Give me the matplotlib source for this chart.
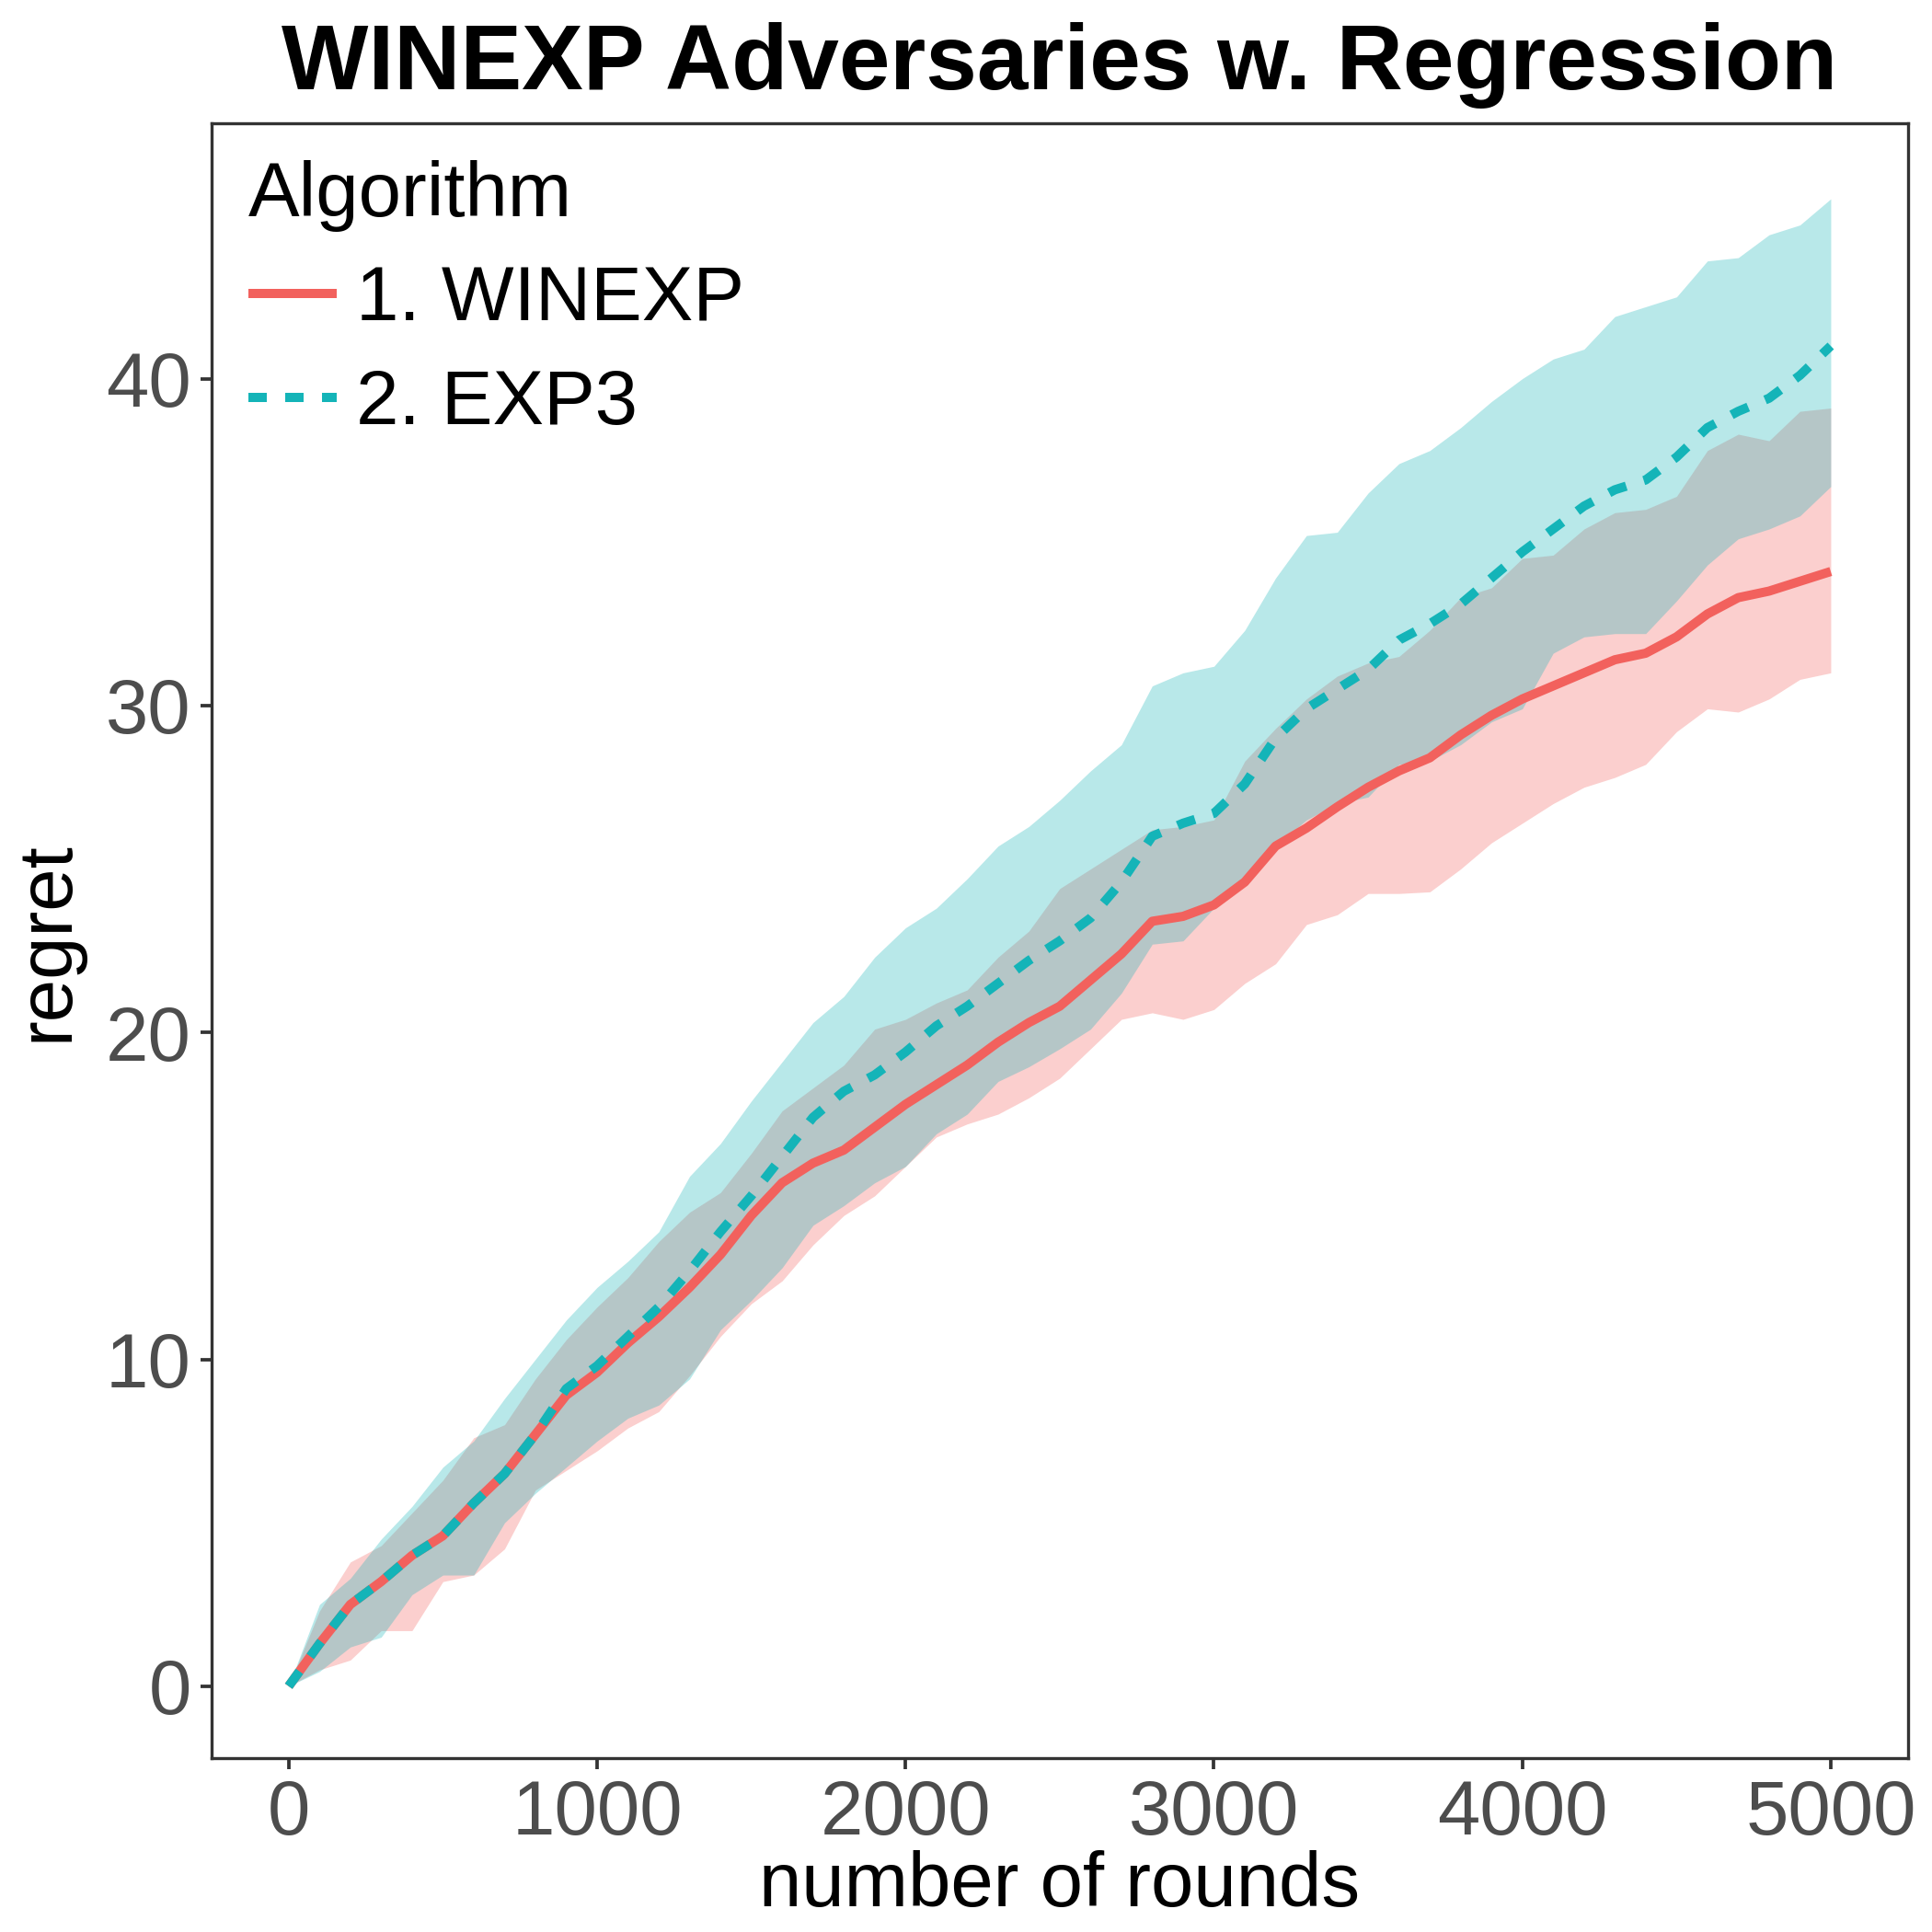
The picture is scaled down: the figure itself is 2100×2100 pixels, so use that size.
import matplotlib
matplotlib.use('Agg')
import matplotlib.pyplot as plt
import numpy as np

plt.rcParams['font.family'] = ['Liberation Sans', 'DejaVu Sans']

rounds = np.arange(0, 5001, 100)

winexp_mean = [0, 1.3, 2.5, 3.2, 4.0, 4.6, 5.6, 6.5, 7.7, 8.9,
               9.6, 10.5, 11.3, 12.2, 13.2, 14.4, 15.4, 16.0, 16.4, 17.1,
               17.8, 18.4, 19.0, 19.7, 20.3, 20.8, 21.6, 22.4, 23.4, 23.55,
               23.9, 24.6, 25.7, 26.25, 26.9, 27.5, 28.0, 28.4, 29.1, 29.7,
               30.2, 30.6, 31.0, 31.4, 31.6, 32.1, 32.8, 33.3, 33.5, 33.8,
               34.1]
winexp_low = [0, 0.5, 0.8, 1.7, 1.7, 3.2, 3.4, 4.2, 6.0, 6.6,
              7.2, 7.9, 8.4, 9.5, 10.7, 11.7, 12.4, 13.5, 14.4, 15.0,
              15.9, 16.8, 17.2, 17.5, 18.0, 18.6, 19.5, 20.4, 20.6, 20.4,
              20.7, 21.5, 22.1, 23.3, 23.6, 24.25, 24.25, 24.3, 25.0, 25.8,
              26.4, 27.0, 27.5, 27.8, 28.2, 29.2, 29.9, 29.8, 30.2, 30.8,
              31.0]
winexp_high = [0, 2.3, 3.8, 4.3, 5.3, 6.3, 7.6, 8.0, 9.4, 10.6,
               11.6, 12.5, 13.6, 14.5, 15.1, 16.3, 17.6, 18.3, 19.0, 20.1,
               20.4, 20.9, 21.3, 22.3, 23.1, 24.4, 25.0, 25.6, 26.2, 26.3,
               26.5, 28.3, 29.3, 30.2, 30.9, 31.3, 31.5, 32.3, 33.3, 33.6,
               34.5, 34.6, 35.4, 35.9, 36.0, 36.4, 37.8, 38.3, 38.1, 39.0,
               39.1]

exp3_mean = [0, 1.3, 2.5, 3.2, 4.0, 4.6, 5.6, 6.5, 7.7, 9.1,
             9.8, 10.7, 11.6, 12.7, 13.9, 15.0, 16.2, 17.4, 18.2, 18.7,
             19.4, 20.2, 20.8, 21.5, 22.2, 22.8, 23.5, 24.6, 26.0, 26.4,
             26.7, 27.6, 29.0, 29.9, 30.5, 31.1, 32.0, 32.5, 33.1, 33.9,
             34.7, 35.4, 36.1, 36.6, 36.9, 37.6, 38.5, 39.0, 39.4, 40.1,
             41.0]
exp3_low = [0, 0.45, 1.2, 1.5, 2.8, 3.4, 3.4, 5.0, 5.9, 6.7,
            7.5, 8.2, 8.6, 9.4, 10.9, 11.8, 12.8, 14.1, 14.7, 15.4,
            15.9, 16.9, 17.5, 18.5, 18.95, 19.5, 20.1, 21.2, 22.7, 22.8,
            23.8, 24.5, 25.7, 26.5, 27.0, 27.2, 28.2, 28.3, 28.8, 29.5,
            29.9, 31.6, 32.1, 32.2, 32.2, 33.2, 34.3, 35.1, 35.4, 35.8,
            36.7]
exp3_high = [0, 2.5, 3.3, 4.5, 5.5, 6.7, 7.5, 8.8, 10.0, 11.2,
             12.2, 13.0, 13.9, 15.6, 16.6, 17.9, 19.1, 20.3, 21.1, 22.3,
             23.2, 23.8, 24.7, 25.7, 26.3, 27.1, 28.0, 28.8, 30.6, 31.0,
             31.2, 32.3, 33.9, 35.2, 35.3, 36.5, 37.4, 37.8, 38.5, 39.3,
             40.0, 40.6, 40.9, 41.9, 42.2, 42.5, 43.6, 43.7, 44.4, 44.7,
             45.5]

algorithms = ['1. WINEXP', '2. EXP3']
colors = ['#F2615D', '#14B4B8']
x_ticks = [0, 1000, 2000, 3000, 4000, 5000]
y_ticks = [0, 10, 20, 30, 40]


def draw(ax):
    groups = [(winexp_mean, winexp_low, winexp_high),
              (exp3_mean, exp3_low, exp3_high)]
    for (mean, low, high), col in zip(groups, colors):
        ax.fill_between(rounds, low, high, color=col, alpha=0.3, lw=0)
    styles = ['-', (0, (2.0, 2.0))]
    for (mean, low, high), col, name, ls in zip(groups, colors, algorithms, styles):
        ax.plot(rounds, mean, color=col, lw=2.4, ls=ls, label=name,
                solid_capstyle='butt', dash_capstyle='butt')


fig = plt.figure(figsize=(7, 7), dpi=300)
ax = fig.add_axes([0.1095, 0.09, 0.878, 0.846])
draw(ax)

ax.set_xlim(-250, 5250)
ax.set_ylim(-2.2, 47.8)
ax.set_xticks(x_ticks)
ax.set_yticks(y_ticks)
ax.tick_params(labelsize=20, labelcolor='#4D4D4D', color='#333333',
               length=2.8, width=0.9, pad=2.5)
for s in ax.spines.values():
    s.set_color('#333333')
    s.set_linewidth(0.8)

ax.set_xlabel('number of rounds', fontsize=20, labelpad=0)
ax.set_ylabel('regret', fontsize=20, labelpad=6)
ax.set_title('WINEXP Adversaries w. Regression', fontsize=24,
             fontweight='bold', pad=9)

leg = ax.legend(title='Algorithm', loc='upper left', bbox_to_anchor=(0.0, 1.0),
                frameon=False, fontsize=20, title_fontsize=20,
                handlelength=1.15, handletextpad=0.25, labelspacing=0.42,
                borderaxespad=0.08, alignment='left')

fig.savefig('out.png', dpi=300)
